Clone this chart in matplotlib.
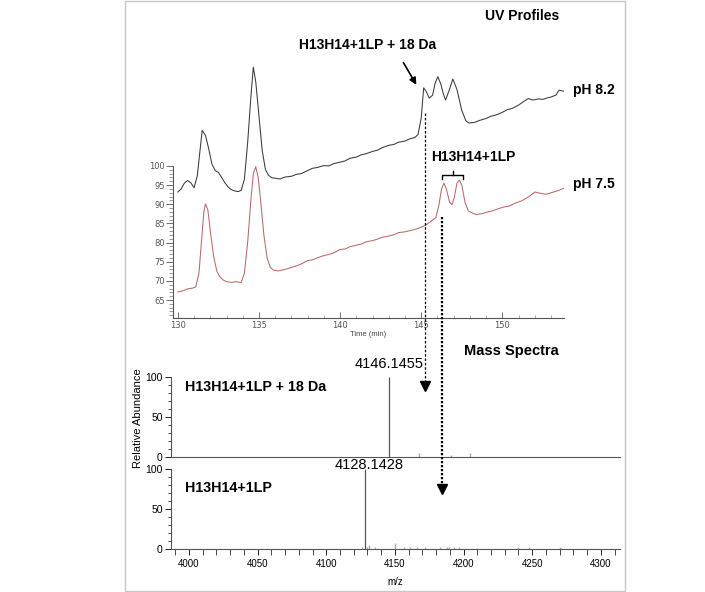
import numpy as np
import matplotlib
matplotlib.use('Agg')
import matplotlib.pyplot as plt
from matplotlib.lines import Line2D
from matplotlib.patches import Rectangle
from matplotlib.ticker import MultipleLocator, FixedLocator

plt.rcParams['font.family'] = ['Liberation Sans', 'DejaVu Sans']

# UV trace, pH 8.2 (drawn offset above the axis)
t_82 = [130.0, 130.2, 130.4, 130.6, 130.8, 131.0, 131.2, 131.35, 131.5, 131.7, 131.9,
        132.1, 132.3, 132.5, 132.7, 132.9, 133.1, 133.3, 133.5, 133.7, 133.9, 134.1,
        134.3, 134.5, 134.65, 134.8, 135.0, 135.2, 135.4, 135.6, 135.8, 136.0, 136.3,
        136.6, 137.0, 137.3, 137.6, 138.0, 138.3, 138.6, 139.0, 139.3, 139.6, 140.0,
        140.3, 140.6, 141.0, 141.3, 141.6, 142.0, 142.3, 142.6, 143.0, 143.3, 143.6,
        144.0, 144.3, 144.6, 144.8, 145.0, 145.15, 145.3, 145.5, 145.7, 145.85, 146.02,
        146.2, 146.35, 146.5, 146.7, 146.95, 147.2, 147.5, 147.75, 147.94, 148.3, 148.6,
        149.0, 149.3, 149.6, 150.0, 150.3, 150.6, 151.0, 151.3, 151.6, 151.9, 152.2,
        152.5, 152.8, 153.0, 153.3, 153.5, 153.8]
v_82 = [93.2, 94.0, 95.5, 96.2, 95.6, 94.3, 97.5, 103.5, 109.3, 108.0, 104.5,
        100.5, 98.8, 98.3, 97.0, 95.6, 94.5, 93.8, 93.5, 93.3, 93.6, 96.5,
        106.0, 118.0, 125.8, 122.0, 113.0, 104.0, 99.0, 97.5, 96.9, 96.8, 96.6,
        97.1, 97.3, 97.8, 98.0, 98.8, 99.4, 99.6, 100.1, 100.0, 100.6, 101.0,
        101.3, 102.0, 102.3, 102.9, 103.2, 103.8, 104.1, 104.8, 105.4, 105.6, 106.2,
        106.5, 107.1, 107.4, 108.2, 112.5, 120.4, 119.5, 117.7, 118.5, 121.5, 123.3,
        121.5, 119.0, 117.2, 119.5, 122.7, 120.0, 114.5, 111.8, 111.2, 111.4, 111.9,
        112.4, 113.0, 113.3, 114.0, 114.7, 115.0, 115.9, 116.8, 117.6, 117.2, 117.5,
        117.4, 117.8, 118.0, 118.5, 119.8, 119.5]

# UV trace, pH 7.5
t_75 = [130.0, 130.3, 130.6, 130.9, 131.1, 131.3, 131.45, 131.6, 131.7, 131.85, 132.0,
        132.2, 132.4, 132.6, 132.8, 133.0, 133.3, 133.6, 133.9, 134.1, 134.3, 134.5,
        134.65, 134.8, 134.95, 135.1, 135.3, 135.5, 135.7, 135.9, 136.2, 136.6, 137.0,
        137.3, 137.6, 138.0, 138.3, 138.6, 139.0, 139.3, 139.6, 140.0, 140.3, 140.6,
        141.0, 141.3, 141.6, 142.0, 142.3, 142.6, 143.0, 143.3, 143.6, 144.0, 144.3,
        144.6, 145.0, 145.3, 145.6, 145.9, 146.1, 146.25, 146.4, 146.55, 146.75, 146.9,
        147.05, 147.2, 147.35, 147.5, 147.7, 147.9, 148.1, 148.4, 148.8, 149.1, 149.4,
        149.8, 150.1, 150.4, 150.8, 151.2, 151.6, 152.0, 152.3, 152.7, 153.0, 153.4,
        153.8]
v_75 = [67.1, 67.4, 67.9, 68.1, 68.4, 72.0, 80.0, 88.0, 90.1, 88.5, 83.0,
        76.5, 72.5, 71.0, 70.2, 69.8, 69.6, 69.8, 69.5, 72.0, 80.0, 91.0,
        98.0, 99.8, 97.0, 91.0, 82.0, 76.0, 73.5, 72.8, 72.6, 73.0, 73.5,
        73.9, 74.4, 75.3, 75.5, 76.0, 76.6, 76.9, 77.3, 78.2, 78.3, 78.9,
        79.3, 79.6, 80.2, 80.5, 80.9, 81.4, 81.7, 82.0, 82.6, 82.8, 83.1,
        83.4, 84.0, 84.6, 85.6, 86.5, 90.0, 94.0, 95.5, 94.0, 90.5, 89.9,
        92.0, 95.5, 96.3, 95.0, 90.5, 88.3, 87.8, 87.3, 87.6, 88.0, 88.3,
        88.9, 89.3, 89.5, 90.3, 90.9, 91.9, 93.2, 92.9, 92.6, 93.0, 93.5,
        94.2]

# mass spectra
mz_top = [4145.9, 4167.7, 4190.8, 4205.0]
ab_top = [100, 5, 2.5, 4.5]
mz_bot = [4125.8, 4128.1, 4130.0, 4131.4, 4135.5, 4150.0, 4157.0, 4161.0, 4166.0,
          4172.0, 4183.0, 4188.0, 4189.5, 4193.0, 4196.5, 4210.0, 4240.0, 4248.0, 4270.0]
ab_bot = [2.5, 100, 2, 5.5, 2, 7.5, 2, 2, 2, 3, 2, 2.5, 2.5, 2, 2, 1.5, 2, 2.5, 2]

W, H = 705, 592

def box(l, t, r, b):
    return [l / W, 1 - b / H, (r - l) / W, (b - t) / H]

def ftext(x, y, s, **kw):
    fig.text(x / W, 1 - y / H, s, **kw)

fig = plt.figure(figsize=(W / 100, H / 100), dpi=100)
fig.add_artist(Rectangle((125 / W, 1 / H), 500 / W, 590 / H, transform=fig.transFigure,
                         fill=False, edgecolor='#c8c8c8', linewidth=1))

# ---- UV profiles ----
ax = fig.add_axes(box(173, 30, 564, 318))
ax.plot(t_82, v_82, color='#3a3a3a', lw=0.75)
ax.plot(t_75, v_75, color='#b86a6a', lw=0.75)
ax.set_xlim(129.7, 153.8)
ax.set_ylim(60.3, 135.5)
ax.patch.set_alpha(0)
for s in ['top', 'right']:
    ax.spines[s].set_visible(False)
ax.spines['left'].set_bounds(60.3, 100)
ax.spines['left'].set_color('#555555')
ax.spines['bottom'].set_color('#555555')
ax.set_yticks(range(65, 101, 5))
ax.yaxis.set_minor_locator(FixedLocator(range(61, 100)))
ax.xaxis.set_major_locator(MultipleLocator(5))
ax.xaxis.set_minor_locator(MultipleLocator(1))
ax.tick_params(axis='y', which='major', length=5, width=0.6, labelsize=6, colors='#555555', pad=1)
ax.tick_params(axis='y', which='minor', length=3, width=0.5, colors='#777777')
ax.tick_params(axis='x', which='major', direction='in', length=4, width=0.6, labelsize=6, colors='#555555', pad=2)
ax.tick_params(axis='x', which='minor', direction='in', length=2.5, width=0.5, colors='#888888')
for lab in ax.get_xticklabels() + ax.get_yticklabels():
    lab.set_family('DejaVu Sans')
ax.set_xlabel('Time (min)', fontsize=5.5, color='#444444', labelpad=1)

ax.annotate('', xy=(144.7, 121.2), xytext=(143.9, 127.0),
            arrowprops=dict(arrowstyle='-|>', color='black', lw=1.2, mutation_scale=10,
                            shrinkA=0, shrinkB=0))
ax.text(141.7, 131.6, 'H13H14+1LP + 18 Da', ha='center', va='center',
        fontsize=10, fontweight='bold')
ax.plot([146.3, 146.3, 147.6, 147.6], [96.6, 97.6, 97.6, 96.6], color='black', lw=1)
ax.plot([146.95, 146.95], [97.6, 98.7], color='black', lw=1)
ax.text(148.2, 102.4, 'H13H14+1LP', ha='center', va='center', fontsize=10, fontweight='bold')

ftext(522, 16, 'UV Profiles', ha='center', va='center', fontsize=10, fontweight='bold')
ftext(573, 90, 'pH 8.2', ha='left', va='center', fontsize=10, fontweight='bold')
ftext(573, 184, 'pH 7.5', ha='left', va='center', fontsize=10, fontweight='bold')

# ---- Mass spectra ----
ax1 = fig.add_axes(box(171, 373, 620, 457))
ax2 = fig.add_axes(box(171, 465, 620, 549))
for a, mz, ab in [(ax1, mz_top, ab_top), (ax2, mz_bot, ab_bot)]:
    big = [(m, h) for m, h in zip(mz, ab) if h >= 50]
    small = [(m, h) for m, h in zip(mz, ab) if h < 50]
    a.vlines([m for m, h in big], 0, [h for m, h in big], color='#555555', lw=0.9)
    a.vlines([m for m, h in small], 0, [h for m, h in small], color='#aaaaaa', lw=1.0)
    a.set_xlim(3986.9, 4314.0)
    a.set_ylim(0, 105)
    a.patch.set_alpha(0)
    for s in ['top', 'right']:
        a.spines[s].set_visible(False)
    a.spines['left'].set_bounds(0, 100)
    a.spines['left'].set_color('#555555')
    a.spines['bottom'].set_color('#555555')
    a.set_yticks([0, 50, 100])
    a.yaxis.set_minor_locator(FixedLocator(range(10, 100, 10)))
    a.tick_params(axis='y', which='major', length=4, width=0.6, labelsize=7.5, pad=2)
    a.tick_params(axis='y', which='minor', length=2.5, width=0.5)
ax1.set_xticks([])
ax2.xaxis.set_major_locator(MultipleLocator(50))
ax2.xaxis.set_minor_locator(MultipleLocator(10))
ax2.tick_params(axis='x', which='major', length=4, width=0.6, labelsize=7, pad=3)
ax2.tick_params(axis='x', which='minor', length=4, width=0.5)
ax2.set_xlabel('m/z', fontsize=7, labelpad=6)

ax1.text(mz_top[0], 108, '4146.1455', ha='center', va='bottom', fontsize=10.5, clip_on=False)
ax2.text(mz_bot[1] + 3, 105, '4128.1428', ha='center', va='center', fontsize=10.5, clip_on=False)
ax1.text(3997, 88, 'H13H14+1LP + 18 Da', ha='left', va='center', fontsize=10.3, fontweight='bold')
ax2.text(3997, 76, 'H13H14+1LP', ha='left', va='center', fontsize=10.3, fontweight='bold')
ftext(511, 351, 'Mass Spectra', ha='center', va='center', fontsize=10.5, fontweight='bold')
ftext(138, 418, 'Relative Abundance', ha='center', va='center', fontsize=8, rotation=90)

# ---- dotted connectors UV peak -> spectrum ----
inv = fig.transFigure.inverted()
def connect(t, v_start, ax_end, y_end, lw, ls):
    x0, y0 = ax.transData.transform((t, v_start))
    _, y1 = ax_end.transData.transform((4000, y_end))
    (fx0, fy0), (fx1, fy1) = inv.transform([(x0, y0), (x0, y1)])
    fig.add_artist(Line2D([fx0, fx1], [fy0, fy1], transform=fig.transFigure,
                          color='black', lw=lw, linestyle=ls))
    fig.add_artist(Line2D([fx1], [fy1 - 4 / H], transform=fig.transFigure, marker='v',
                          markersize=7, color='black', linestyle='none'))

connect(145.25, 113.8, ax1, 94, 0.9, (0, (2, 1.5)))
connect(146.3, 86.7, ax2, 80, 1.6, (0, (1, 0.8)))

fig.savefig('out.png', dpi=100)
